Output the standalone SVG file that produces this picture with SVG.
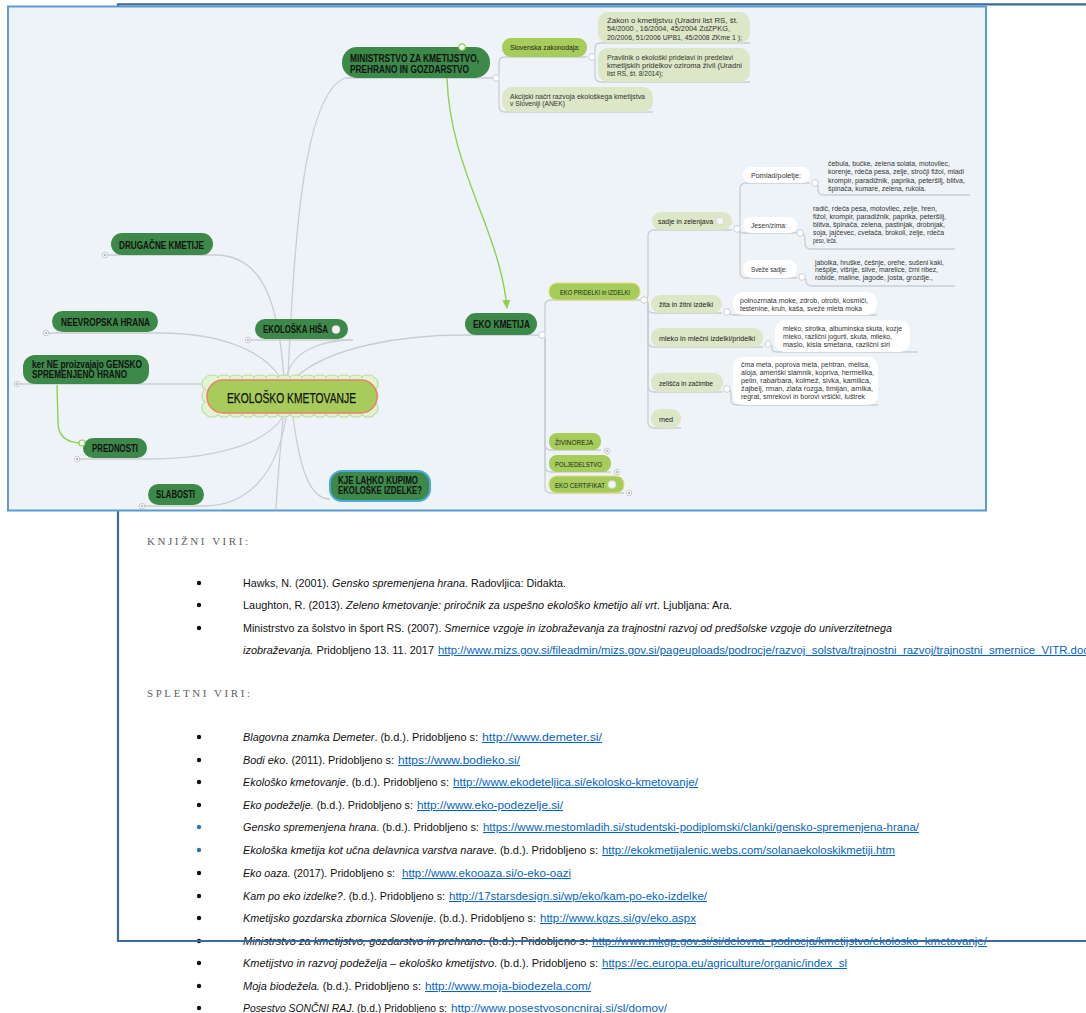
<svg xmlns="http://www.w3.org/2000/svg" width="1086" height="1013" viewBox="0 0 1086 1013">
<defs>
<style>
.ln{fill:none;stroke:#c9ced3;stroke-width:1.3}
.gl{fill:none;stroke:#8fd14f;stroke-width:1.4}
.dk{fill:#3d8949}
.lg{fill:#a6cd5b}
.pg{fill:#dbe7c6}
.wb{fill:#ffffff}
.jn{fill:#ffffff;stroke:#c9ced3;stroke-width:1}
.cd{fill:#f6f6f6;stroke:#bfc3c7;stroke-width:0.8}
.cdi{fill:#9aa0a6}
.tb{font-family:'Liberation Sans Narrow','Liberation Sans',Arial,sans-serif;font-weight:bold;font-size:10px;fill:#111}
.ts{font-family:'Liberation Sans Narrow','Liberation Sans',Arial,sans-serif;font-size:7px;fill:#333}
.tm{font-family:'Liberation Sans Narrow','Liberation Sans',Arial,sans-serif;font-size:7.5px;fill:#222}
.body{font-family:'Liberation Sans',Arial,sans-serif;font-size:10.5px;fill:#111}
.lk{font-family:'Liberation Sans',Arial,sans-serif;font-size:10.5px;fill:#0563c1;text-decoration:underline}
.hd{font-family:'Liberation Serif','Times New Roman',serif;font-size:11px;fill:#606060}
.bl{fill:#111}
.bb{fill:#2e74b5}
</style>
<marker id="ga" markerWidth="10" markerHeight="10" refX="8" refY="4" orient="auto" markerUnits="userSpaceOnUse">
<path d="M0,0 L9,4 L0,8 Z" fill="#8fd14f"/>
</marker>
</defs>
<rect x="0" y="0" width="1086" height="1013" fill="#ffffff"/>
<g id="frame" fill="none" stroke="#3c6a9b" stroke-width="2.2">
<path d="M1086,4.3 L118,4.3 L118,941 L1086,941"/>
</g>
<g id="mindmap">
<rect x="8" y="6.5" width="978" height="504" fill="#eef3f7" stroke="#5b9bd5" stroke-width="2"/>
<g id="connectors">
<path class="ln" d="M105,255 L215,255 C262,255 278,300 284,377"/>
<path class="ln" d="M46,333 L160,333 C220,333 262,350 280,377"/>
<path class="ln" d="M287,376 C292,352 320,340 353,340 L248,340"/>
<path class="ln" d="M17,384 L201,384"/>
<path class="ln" d="M288,376 C294,250 302,95 345,78 L496,78"/>
<path class="ln" d="M283,417 C262,448 205,459 147,459 L77,459"/>
<path class="ln" d="M286,418 C276,478 245,506 204,506 L142,506"/>
<path class="ln" d="M283,418 C280,455 277,485 276,510"/>
<path class="ln" d="M293,417 C300,470 310,499 330,499"/>
<path class="ln" d="M296,377 C330,347 400,335 465,335 L542,335"/>
<path class="ln" d="M496,78 Q499,78 499,73 L499,63 Q499,57 505,57 L587,57"/>
<path class="ln" d="M496,78 Q499,78 499,83 L499,106 Q499,112 505,112 L653,112"/>
<path class="ln" d="M592,57 Q595,57 595,52 L595,48 Q595,43 601,43 L750,43"/>
<path class="ln" d="M592,57 Q595,57 595,62 L595,76 Q595,82 601,82 L750,82"/>
<path class="ln" d="M542,335 Q545,335 545,330 L545,306 Q545,300 551,300 L640,300"/>
<path class="ln" d="M542,335 Q545,335 545,340 L545,444 Q545,450 551,450 L601,450"/>
<path class="ln" d="M542,335 Q545,335 545,340 L545,466 Q545,472 551,472 L611,472"/>
<path class="ln" d="M542,335 Q545,335 545,340 L545,487 Q545,493 551,493 L624,493"/>
<path class="ln" d="M644,300 Q648,300 648,295 L648,236 Q648,230 654,230 L732,230"/>
<path class="ln" d="M644,300 Q648,300 648,304 L648,308 Q648,313 654,313 L722,313"/>
<path class="ln" d="M644,300 Q648,300 648,305 L648,341 Q648,347 654,347 L763,347"/>
<path class="ln" d="M644,300 Q648,300 648,305 L648,386 Q648,392 654,392 L723,392"/>
<path class="ln" d="M644,300 Q648,300 648,305 L648,422 Q648,428 654,428 L681,428"/>
<path class="ln" d="M737,229 Q740,229 740,224 L740,189 Q740,183 746,183 L810,183"/>
<path class="ln" d="M737,229 Q740,229 740,231 Q740,233 745,233 L797,233"/>
<path class="ln" d="M737,229 Q740,229 740,234 L740,272 Q740,278 746,278 L797,278"/>
<path class="ln" d="M815,183 Q818,183 818,188 L818,190 Q818,195 824,195 L970,195"/>
<path class="ln" d="M800,233 Q805,233 805,239 L805,243 Q805,249 811,249 L955,249"/>
<path class="ln" d="M802,277 Q806,277 806,281 Q806,286 812,286 L955,286"/>
<path class="ln" d="M727,312 Q730,312 730,313 Q730,315 735,315 L877,315"/>
<path class="ln" d="M768,344 Q772,344 772,348 Q772,352 777,352 L918,352"/>
<path class="ln" d="M727,389 Q731,389 731,394 L731,400 Q731,405 737,405 L878,405"/>
<path class="gl" d="M447,78 C450,170 500,230 507,308" marker-end="url(#ga)"/>
<path class="gl" d="M57,385 L58,422 C58,438 68,443 82,443"/>
</g>

<g id="n-center">
<path d="M206,378 a6,3 0 0 1 12,0 a6,3 0 0 1 12,0 a6,3 0 0 1 12,0 a6,3 0 0 1 12,0 a6,3 0 0 1 12,0 a6,3 0 0 1 12,0 a6,3 0 0 1 12,0 a6,3 0 0 1 12,0 a6,3 0 0 1 12,0 a6,3 0 0 1 12,0 a6,3 0 0 1 12,0 a6,3 0 0 1 12,0 a6,3 0 0 1 12,0 a6,3 0 0 1 12,0 a4,6 0 0 1 0,12 a4,6 0 0 1 0,12 a4,6 0 0 1 0,12 a6,3 0 0 1 -12,0 a6,3 0 0 1 -12,0 a6,3 0 0 1 -12,0 a6,3 0 0 1 -12,0 a6,3 0 0 1 -12,0 a6,3 0 0 1 -12,0 a6,3 0 0 1 -12,0 a6,3 0 0 1 -12,0 a6,3 0 0 1 -12,0 a6,3 0 0 1 -12,0 a6,3 0 0 1 -12,0 a6,3 0 0 1 -12,0 a6,3 0 0 1 -12,0 a6,3 0 0 1 -12,0 a4,6 0 0 1 0,-12 a4,6 0 0 1 0,-12 a4,6 0 0 1 0,-12 Z" fill="#e4f2d4" stroke="#b7de9c" stroke-width="1.2"/>
<rect x="207" y="380" width="170" height="33" rx="16" fill="#a8cc5c" stroke="#e8806a" stroke-width="1.5"/>
<text x="227" y="402.5" font-family="'Liberation Sans Narrow','Liberation Sans',Arial,sans-serif" font-size="14" fill="#111" stroke="#111" stroke-width="0.25" textLength="129" lengthAdjust="spacingAndGlyphs">EKOLOŠKO KMETOVANJE</text>
</g>

<g id="n-ministrstvo">
<rect class="dk" x="342" y="47" width="148" height="31" rx="15"/>
<text class="tb" x="350" y="61.5" font-size="10.5" textLength="129" lengthAdjust="spacingAndGlyphs">MINISTRSTVO ZA KMETIJSTVO,</text>
<text class="tb" x="350" y="72.5" font-size="10.5" textLength="119" lengthAdjust="spacingAndGlyphs">PREHRANO IN GOZDARSTVO</text>
<circle cx="462" cy="47" r="3.2" fill="#ffffff" stroke="#8fd14f" stroke-width="1.2"/>
</g>
<g id="n-slovenska">
<rect class="lg" x="502" y="38" width="85" height="19" rx="9"/>
<text class="tm" x="510" y="50" textLength="70" lengthAdjust="spacingAndGlyphs">Slovenska zakonodaja:</text>
</g>
<g id="n-zakon">
<rect class="pg" x="598" y="12" width="152" height="31" rx="10"/>
<text class="ts" x="607" y="23" textLength="131" lengthAdjust="spacingAndGlyphs">Zakon o kmetijstvu (Uradni list RS, št.</text>
<text class="ts" x="607" y="31" textLength="123" lengthAdjust="spacingAndGlyphs">54/2000 , 16/2004, 45/2004 ZdZPKG,</text>
<text class="ts" x="607" y="39.5" textLength="135" lengthAdjust="spacingAndGlyphs">20/2006, 51/2006 UPB1, 45/2008 ZKme 1 );</text>
</g>
<g id="n-pravilnik">
<rect class="pg" x="598" y="48" width="152" height="34" rx="10"/>
<text class="ts" x="607" y="60" textLength="126" lengthAdjust="spacingAndGlyphs">Pravilnik o ekološki pridelavi in predelavi</text>
<text class="ts" x="607" y="68" textLength="135" lengthAdjust="spacingAndGlyphs">kmetijskih pridelkov oziroma živil (Uradni</text>
<text class="ts" x="607" y="76" textLength="56" lengthAdjust="spacingAndGlyphs">list RS, št. 8/2014);</text>
</g>
<g id="n-akcijski">
<rect class="pg" x="502" y="87" width="151" height="25" rx="10"/>
<text class="ts" x="510" y="98.5" textLength="135" lengthAdjust="spacingAndGlyphs">Akcijski načrt razvoja ekološkega kmetijstva</text>
<text class="ts" x="510" y="106" textLength="55" lengthAdjust="spacingAndGlyphs">v Sloveniji (ANEK)</text>
</g>

<g id="n-drugacne">
<rect class="dk" x="111" y="233" width="102" height="22" rx="11"/>
<text class="tb" x="119" y="248.5" textLength="85" lengthAdjust="spacingAndGlyphs">DRUGAČNE KMETIJE</text>
</g>
<g id="n-neevropska">
<rect class="dk" x="52" y="311" width="106" height="21" rx="10.5"/>
<text class="tb" x="61" y="325.5" textLength="89" lengthAdjust="spacingAndGlyphs">NEEVROPSKA HRANA</text>
</g>
<g id="n-hisa">
<rect class="dk" x="255" y="319" width="93" height="20" rx="10"/>
<text class="tb" x="263" y="333" textLength="65" lengthAdjust="spacingAndGlyphs">EKOLOŠKA HIŠA</text>
<circle cx="336" cy="329.5" r="4" fill="#f2f2f2" stroke="#d0d0d0" stroke-width="0.6"/>
</g>
<g id="n-kerne">
<rect class="dk" x="23" y="355" width="126" height="29" rx="12"/>
<text class="tb" x="32" y="368" font-size="9" textLength="110" lengthAdjust="spacingAndGlyphs">ker NE proizvajajo GENSKO</text>
<text class="tb" x="32" y="377.5" font-size="9" textLength="95" lengthAdjust="spacingAndGlyphs">SPREMENJENO HRANO</text>
</g>
<g id="n-prednosti">
<rect class="dk" x="83" y="438" width="64" height="20" rx="10"/>
<text class="tb" x="92" y="452" textLength="46" lengthAdjust="spacingAndGlyphs">PREDNOSTI</text>
<circle cx="82" cy="443" r="3" fill="#ffffff" stroke="#8fd14f" stroke-width="1.2"/>
</g>
<g id="n-slabosti">
<rect class="dk" x="148" y="484" width="56" height="21" rx="10.5"/>
<text class="tb" x="156" y="498" textLength="39" lengthAdjust="spacingAndGlyphs">SLABOSTI</text>
</g>
<g id="n-kje">
<rect class="dk" x="330" y="471" width="100" height="30" rx="12" stroke="#4aa8e0" stroke-width="2"/>
<text class="tb" x="338" y="484" font-size="9" textLength="80" lengthAdjust="spacingAndGlyphs">KJE LAHKO KUPIMO</text>
<text class="tb" x="338" y="494" font-size="9" textLength="84" lengthAdjust="spacingAndGlyphs">EKOLOŠKE IZDELKE?</text>
</g>

<g id="n-ekokmetija">
<rect class="dk" x="465" y="313" width="72" height="22" rx="11"/>
<text class="tb" x="473" y="328" textLength="57" lengthAdjust="spacingAndGlyphs">EKO KMETIJA</text>
</g>
<g id="n-ekopridelki">
<rect class="lg" x="549" y="283" width="91" height="17" rx="8" stroke="#e6dc78" stroke-width="1"/>
<text class="tm" x="560" y="294.5" textLength="70" lengthAdjust="spacingAndGlyphs">EKO PRIDELKI in IZDELKI</text>
</g>
<g id="n-zivinoreja">
<rect class="lg" x="549" y="433" width="52" height="17" rx="8"/>
<text class="tm" x="555" y="444.5" textLength="38" lengthAdjust="spacingAndGlyphs">ŽIVINOREJA</text>
</g>
<g id="n-poljedelstvo">
<rect class="lg" x="549" y="455" width="62" height="17" rx="8"/>
<text class="tm" x="555" y="466.5" textLength="47" lengthAdjust="spacingAndGlyphs">POLJEDELSTVO</text>
</g>
<g id="n-certifikat">
<rect class="lg" x="549" y="476" width="75" height="17" rx="8" stroke="#e6dc78" stroke-width="1"/>
<text class="tm" x="555" y="487.5" textLength="50" lengthAdjust="spacingAndGlyphs">EKO CERTIFIKAT</text>
<circle cx="612" cy="484.5" r="4" fill="#f4f4f4" stroke="#d0d0d0" stroke-width="0.6"/>
</g>

<g id="n-sadje">
<rect class="pg" x="652" y="212" width="80" height="18" rx="9"/>
<text class="tm" x="658" y="224" textLength="55" lengthAdjust="spacingAndGlyphs">sadje in zelenjava</text>
<circle cx="720" cy="221" r="4" fill="#f4f4f4" stroke="#c8c8c8" stroke-width="0.6"/>
</g>
<g id="n-pomlad">
<rect class="wb" x="743" y="167" width="67" height="16" rx="8"/>
<text class="ts" x="751" y="178" textLength="50" lengthAdjust="spacingAndGlyphs">Pomlad/poletje:</text>
</g>
<g id="n-pomlad-list">
<text class="ts" x="828" y="165.5" textLength="122" lengthAdjust="spacingAndGlyphs">čebula, bučke, zelena solata, motovilec,</text>
<text class="ts" x="828" y="174" textLength="136" lengthAdjust="spacingAndGlyphs">korenje, rdeča pesa, zelje, stročji fižol, mladi</text>
<text class="ts" x="828" y="182.5" textLength="137" lengthAdjust="spacingAndGlyphs">krompir, paradižnik, paprika, peteršilj, blitva,</text>
<text class="ts" x="828" y="191" textLength="98" lengthAdjust="spacingAndGlyphs">špinača, kumare, zelena, rukola.</text>
</g>
<g id="n-jesen">
<rect class="wb" x="743" y="217" width="54" height="16" rx="8"/>
<text class="ts" x="751" y="228" textLength="36" lengthAdjust="spacingAndGlyphs">Jesen/zima:</text>
</g>
<g id="n-jesen-list">
<text class="ts" x="813" y="210.5" textLength="124" lengthAdjust="spacingAndGlyphs">radič, rdeča pesa, motovilec, zelje, hren,</text>
<text class="ts" x="813" y="218.5" textLength="133" lengthAdjust="spacingAndGlyphs">fižol, krompir, paradižnik, paprika, peteršilj,</text>
<text class="ts" x="813" y="226.5" textLength="132" lengthAdjust="spacingAndGlyphs">blitva, špinača, zelena, pastinjak, drobnjak,</text>
<text class="ts" x="813" y="235" textLength="131" lengthAdjust="spacingAndGlyphs">soja, jajčevec, cvetača, brokoli, zelje, rdeča</text>
<text class="ts" x="813" y="243" textLength="24" lengthAdjust="spacingAndGlyphs">peso, leča.</text>
</g>
<g id="n-sveze">
<rect class="wb" x="743" y="260" width="54" height="18" rx="9"/>
<text class="ts" x="751" y="272" textLength="36" lengthAdjust="spacingAndGlyphs">Sveže sadje:</text>
</g>
<g id="n-sveze-list">
<text class="ts" x="815" y="264.5" textLength="129" lengthAdjust="spacingAndGlyphs">jabolka, hruške, češnje, orehe, sušeni kaki,</text>
<text class="ts" x="815" y="272" textLength="123" lengthAdjust="spacingAndGlyphs">nešplje, višnje, slive, marelice, črni ribez,</text>
<text class="ts" x="815" y="280" textLength="118" lengthAdjust="spacingAndGlyphs">robide, maline, jagode, josta, grozdje.,</text>
</g>
<g id="n-zita">
<rect class="pg" x="651" y="295" width="71" height="18" rx="9"/>
<text class="tm" x="659" y="307" textLength="54" lengthAdjust="spacingAndGlyphs">žita in žitni izdelki</text>
</g>
<g id="n-zita-list">
<rect class="wb" x="733" y="292" width="144" height="23" rx="10"/>
<text class="ts" x="740" y="302.5" textLength="128" lengthAdjust="spacingAndGlyphs">polnozrnata moke, zdrob, otrobi, kosmiči,</text>
<text class="ts" x="740" y="310.5" textLength="122" lengthAdjust="spacingAndGlyphs">testenine, kruh, kaša, sveže mleta moka</text>
</g>
<g id="n-mleko">
<rect class="pg" x="651" y="328" width="112" height="19" rx="9"/>
<text class="tm" x="659" y="340.5" textLength="96" lengthAdjust="spacingAndGlyphs">mleko in mlečni izdelki/pridelki</text>
</g>
<g id="n-mleko-list">
<rect class="wb" x="775" y="320" width="135" height="32" rx="10"/>
<text class="ts" x="783" y="330.5" textLength="119" lengthAdjust="spacingAndGlyphs">mleko, sirotka, albuminska skuta, kozje</text>
<text class="ts" x="783" y="338.5" textLength="109" lengthAdjust="spacingAndGlyphs">mleko, različni jogurti, skuta, mlieko,</text>
<text class="ts" x="783" y="346.5" textLength="107" lengthAdjust="spacingAndGlyphs">maslo, kisla smetana, različni siri</text>
</g>
<g id="n-zelisca">
<rect class="pg" x="651" y="373" width="72" height="19" rx="9"/>
<text class="tm" x="659" y="385.5" textLength="54" lengthAdjust="spacingAndGlyphs">zelišča in začimbe</text>
</g>
<g id="n-zelisca-list">
<rect class="wb" x="733" y="357" width="145" height="48" rx="10"/>
<text class="ts" x="741" y="366.5" textLength="129" lengthAdjust="spacingAndGlyphs">čma meta, poprova meta, pehtran, melisa,</text>
<text class="ts" x="741" y="374.5" textLength="133" lengthAdjust="spacingAndGlyphs">aloja, ameriški slamnik, kopriva, hermelika,</text>
<text class="ts" x="741" y="382.5" textLength="130" lengthAdjust="spacingAndGlyphs">pelin, rabarbara, kolmež, sivka, kamilica,</text>
<text class="ts" x="741" y="390.5" textLength="132" lengthAdjust="spacingAndGlyphs">žajbelj, rman, zlata rozga, timijan, arnika,</text>
<text class="ts" x="741" y="398.5" textLength="124" lengthAdjust="spacingAndGlyphs">regrat, smrekovi in borovi vršički, luštrek</text>
</g>
<g id="n-med">
<rect class="pg" x="651" y="409" width="30" height="19" rx="9"/>
<text class="tm" x="659" y="421.5" textLength="14" lengthAdjust="spacingAndGlyphs">med</text>
</g>

<g id="junctions">
<circle class="jn" cx="496" cy="78" r="3.3"/>
<circle class="jn" cx="592" cy="57" r="3.3"/>
<circle class="jn" cx="644" cy="300" r="3.3"/>
<circle class="jn" cx="542" cy="335" r="3.3"/>
<circle class="jn" cx="737" cy="229" r="3.3"/>
<circle class="jn" cx="815" cy="183" r="3.3"/>
<circle class="jn" cx="800" cy="233" r="3.3"/>
<circle class="jn" cx="802" cy="277" r="3.3"/>
<circle class="jn" cx="727" cy="312" r="3.3"/>
<circle class="jn" cx="768" cy="344" r="3.3"/>
<circle class="jn" cx="727" cy="389" r="3.3"/>
<circle class="cd" cx="105" cy="255" r="2.8"/><circle class="cdi" cx="105" cy="255" r="0.9"/>
<circle class="cd" cx="46" cy="333" r="2.8"/><circle class="cdi" cx="46" cy="333" r="0.9"/>
<circle class="cd" cx="248" cy="340" r="2.8"/><circle class="cdi" cx="248" cy="340" r="0.9"/>
<circle class="cd" cx="17" cy="384" r="2.8"/><circle class="cdi" cx="17" cy="384" r="0.9"/>
<circle class="cd" cx="77" cy="459" r="2.8"/><circle class="cdi" cx="77" cy="459" r="0.9"/>
<circle class="cd" cx="142" cy="506" r="2.8"/><circle class="cdi" cx="142" cy="506" r="0.9"/>
<circle class="cd" cx="607" cy="451" r="2.8"/><circle class="cdi" cx="607" cy="451" r="0.9"/>
<circle class="cd" cx="617" cy="472" r="2.8"/><circle class="cdi" cx="617" cy="472" r="0.9"/>
<circle class="cd" cx="629" cy="493" r="2.8"/><circle class="cdi" cx="629" cy="493" r="0.9"/>
</g>
</g>

<g id="bibliography">
<text class="hd" x="147" y="545" textLength="101" lengthAdjust="spacing">KNJIŽNI VIRI:</text>
<circle class="bl" cx="199" cy="583" r="2.2"/>
<circle class="bl" cx="199" cy="605" r="2.2"/>
<circle class="bl" cx="199" cy="628" r="2.2"/>
<text class="body" x="243" y="587" textLength="323" lengthAdjust="spacingAndGlyphs">Hawks, N. (2001). <tspan font-style="italic">Gensko spremenjena hrana</tspan>. Radovljica: Didakta.</text>
<text class="body" x="243" y="609" textLength="489" lengthAdjust="spacingAndGlyphs">Laughton, R. (2013). <tspan font-style="italic">Zeleno kmetovanje: priročnik za uspešno ekološko kmetijo ali vrt</tspan>. Ljubljana: Ara.</text>
<text class="body" x="243" y="632" textLength="649" lengthAdjust="spacingAndGlyphs">Ministrstvo za šolstvo in šport RS. (2007). <tspan font-style="italic">Smernice vzgoje in izobraževanja za trajnostni razvoj od predšolske vzgoje do univerzitetnega</tspan></text>
<text class="body" x="243" y="654" textLength="191" lengthAdjust="spacingAndGlyphs"><tspan font-style="italic">izobraževanja.</tspan> Pridobljeno 13. 11. 2017</text>
<text class="lk" x="438" y="654" textLength="651" lengthAdjust="spacingAndGlyphs">http://www.mizs.gov.si/fileadmin/mizs.gov.si/pageuploads/podrocje/razvoj_solstva/trajnostni_razvoj/trajnostni_smernice_VITR.doc</text>

<text class="hd" x="147" y="697" textLength="103" lengthAdjust="spacing">SPLETNI VIRI:</text>
<circle class="bl" cx="199" cy="737" r="2.2"/>
<circle class="bl" cx="199" cy="760" r="2.2"/>
<circle class="bl" cx="199" cy="782" r="2.2"/>
<circle class="bl" cx="199" cy="805" r="2.2"/>
<circle class="bb" cx="199" cy="827" r="2.2"/>
<circle class="bb" cx="199" cy="850" r="2.2"/>
<circle class="bl" cx="199" cy="873" r="2.2"/>
<circle class="bl" cx="199" cy="896" r="2.2"/>
<circle class="bl" cx="199" cy="918" r="2.2"/>
<circle class="bl" cx="199" cy="941" r="2.2"/>
<circle class="bl" cx="199" cy="963" r="2.2"/>
<circle class="bl" cx="199" cy="986" r="2.2"/>
<circle class="bl" cx="199" cy="1008" r="2.2"/>

<text class="body" x="243" y="741" textLength="235" lengthAdjust="spacingAndGlyphs"><tspan font-style="italic">Blagovna znamka Demeter</tspan>. (b.d.). Pridobljeno s:</text>
<text class="lk" x="482" y="741" textLength="120" lengthAdjust="spacingAndGlyphs">http://www.demeter.si/</text>
<text class="body" x="243" y="764" textLength="151" lengthAdjust="spacingAndGlyphs"><tspan font-style="italic">Bodi eko</tspan>. (2011). Pridobljeno s:</text>
<text class="lk" x="398" y="764" textLength="122" lengthAdjust="spacingAndGlyphs">https://www.bodieko.si/</text>
<text class="body" x="243" y="786" textLength="206" lengthAdjust="spacingAndGlyphs"><tspan font-style="italic">Ekološko kmetovanje</tspan>. (b.d.). Pridobljeno s:</text>
<text class="lk" x="453" y="786" textLength="245" lengthAdjust="spacingAndGlyphs">http://www.ekodeteljica.si/ekolosko-kmetovanje/</text>
<text class="body" x="243" y="809" textLength="170" lengthAdjust="spacingAndGlyphs"><tspan font-style="italic">Eko podeželje.</tspan> (b.d.). Pridobljeno s:</text>
<text class="lk" x="417" y="809" textLength="146" lengthAdjust="spacingAndGlyphs">http://www.eko-podezelje.si/</text>
<text class="body" x="243" y="831" textLength="236" lengthAdjust="spacingAndGlyphs"><tspan font-style="italic">Gensko spremenjena hrana</tspan>. (b.d.). Pridobljeno s:</text>
<text class="lk" x="483" y="831" textLength="436" lengthAdjust="spacingAndGlyphs">https://www.mestomladih.si/studentski-podiplomski/clanki/gensko-spremenjena-hrana/</text>
<text class="body" x="243" y="854" textLength="355" lengthAdjust="spacingAndGlyphs"><tspan font-style="italic">Ekološka kmetija kot učna delavnica varstva narave</tspan>. (b.d.). Pridobljeno s:</text>
<text class="lk" x="602" y="854" textLength="293" lengthAdjust="spacingAndGlyphs">http://ekokmetijalenic.webs.com/solanaekoloskikmetiji.htm</text>
<text class="body" x="243" y="877" textLength="152" lengthAdjust="spacingAndGlyphs"><tspan font-style="italic">Eko oaza.</tspan> (2017). Pridobljeno s:</text>
<text class="lk" x="402" y="877" textLength="169" lengthAdjust="spacingAndGlyphs">http://www.ekooaza.si/o-eko-oazi</text>
<text class="body" x="243" y="900" textLength="202" lengthAdjust="spacingAndGlyphs"><tspan font-style="italic">Kam po eko izdelke?</tspan>. (b.d.). Pridobljeno s:</text>
<text class="lk" x="449" y="900" textLength="258" lengthAdjust="spacingAndGlyphs">http://17starsdesign.si/wp/eko/kam-po-eko-izdelke/</text>
<text class="body" x="243" y="922" textLength="293" lengthAdjust="spacingAndGlyphs"><tspan font-style="italic">Kmetijsko gozdarska zbornica Slovenije</tspan>. (b.d.). Pridobljeno s:</text>
<text class="lk" x="540" y="922" textLength="156" lengthAdjust="spacingAndGlyphs">http://www.kgzs.si/gv/eko.aspx</text>
<text class="body" x="243" y="945" textLength="345" lengthAdjust="spacingAndGlyphs"><tspan font-style="italic">Ministrstvo za kmetijstvo, gozdarstvo in prehrano</tspan>. (b.d.). Pridobljeno s:</text>
<text class="lk" x="592" y="945" textLength="395" lengthAdjust="spacingAndGlyphs">http://www.mkgp.gov.si/si/delovna_podrocja/kmetijstvo/ekolosko_kmetovanje/</text>
<text class="body" x="243" y="967" textLength="355" lengthAdjust="spacingAndGlyphs"><tspan font-style="italic">Kmetijstvo in razvoj podeželja – ekološko kmetijstvo</tspan>. (b.d.). Pridobljeno s:</text>
<text class="lk" x="602" y="967" textLength="245" lengthAdjust="spacingAndGlyphs">https://ec.europa.eu/agriculture/organic/index_sl</text>
<text class="body" x="243" y="990" textLength="178" lengthAdjust="spacingAndGlyphs"><tspan font-style="italic">Moja biodežela.</tspan> (b.d.). Pridobljeno s:</text>
<text class="lk" x="425" y="990" textLength="166" lengthAdjust="spacingAndGlyphs">http://www.moja-biodezela.com/</text>
<text class="body" x="243" y="1012" textLength="204" lengthAdjust="spacingAndGlyphs"><tspan font-style="italic">Posestvo SONČNI RAJ</tspan>. (b.d.) Pridobljeno s:</text>
<text class="lk" x="451" y="1012" textLength="216" lengthAdjust="spacingAndGlyphs">http://www.posestvosoncniraj.si/sl/domov/</text>
</g>
<path id="frame-bottom" d="M118,941 L1086,941" stroke="#3c6a9b" stroke-width="2" fill="none"/>
</svg>
